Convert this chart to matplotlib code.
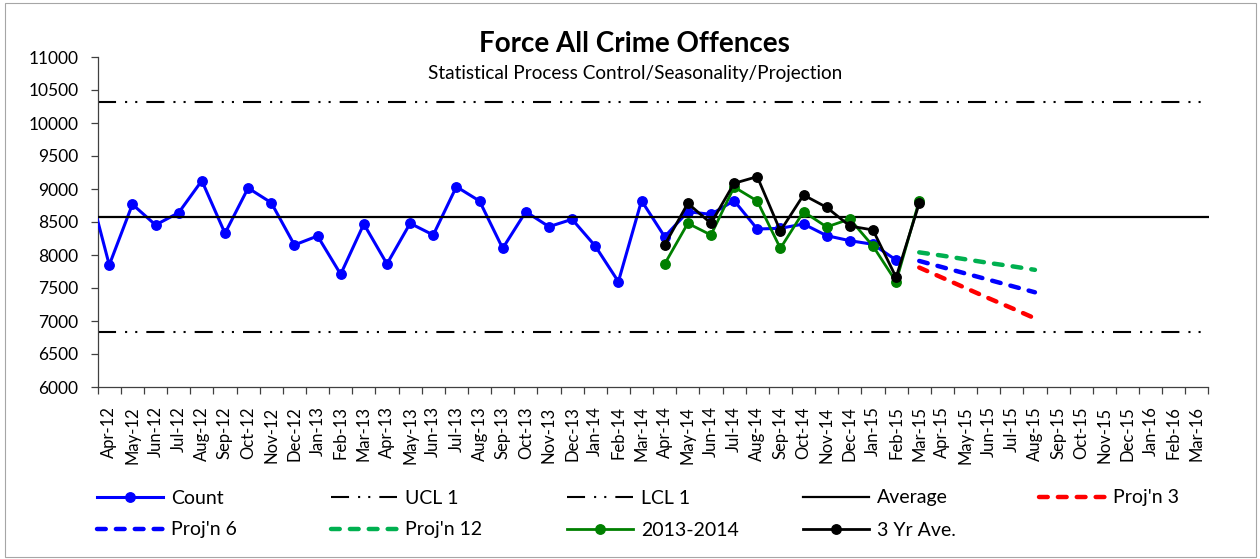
import matplotlib
matplotlib.use('Agg')
import matplotlib.pyplot as plt
from matplotlib.patches import Rectangle
import numpy as np

plt.rcParams['font.family'] = ['Lato', 'DejaVu Sans']
plt.rcParams['lines.scale_dashes'] = False

W, H = 1260, 559

months = ['Apr-12', 'May-12', 'Jun-12', 'Jul-12', 'Aug-12', 'Sep-12', 'Oct-12', 'Nov-12',
          'Dec-12', 'Jan-13', 'Feb-13', 'Mar-13', 'Apr-13', 'May-13', 'Jun-13', 'Jul-13',
          'Aug-13', 'Sep-13', 'Oct-13', 'Nov-13', 'Dec-13', 'Jan-14', 'Feb-14', 'Mar-14',
          'Apr-14', 'May-14', 'Jun-14', 'Jul-14', 'Aug-14', 'Sep-14', 'Oct-14', 'Nov-14',
          'Dec-14', 'Jan-15', 'Feb-15', 'Mar-15', 'Apr-15', 'May-15', 'Jun-15', 'Jul-15',
          'Aug-15', 'Sep-15', 'Oct-15', 'Nov-15', 'Dec-15', 'Jan-16', 'Feb-16', 'Mar-16']

# value for the month before the first category (Mar-12), only its segment is visible
count_before = 9190
# Count: Apr-12 .. Feb-15
count = [7848, 8768, 8455, 8641, 9126, 8329, 9015, 8792, 8152, 8288, 7708, 8470,
         7864, 8480, 8303, 9035, 8818, 8101, 8656, 8429, 8541, 8136, 7596, 8823,
         8277, 8656, 8616, 8823, 8394, 8404, 8470, 8293, 8217, 8162, 7924]
# 2013-2014 and 3 Yr Ave: Apr-14 .. Mar-15
yr_2013_2014 = [7864, 8480, 8303, 9030, 8818, 8101, 8656, 8425, 8545, 8136, 7596, 8823]
three_yr_ave = [8152, 8783, 8480, 9086, 9187, 8364, 8909, 8722, 8439, 8379, 7662, 8783]
# Projections: Mar-15 .. Aug-15
proj3 = [7810, 7655, 7500, 7345, 7195, 7040]
proj6 = [7910, 7815, 7720, 7625, 7530, 7435]
proj12 = [8040, 7990, 7935, 7880, 7830, 7775]

ucl = 10320
lcl = 6830
average = 8571

fig = plt.figure(figsize=(W / 100, H / 100), dpi=100)
ax = fig.add_axes([97.7 / W, 1 - 387 / H, (1208.5 - 97.7) / W, (387 - 57) / H])

x_all = np.arange(len(months))
i_count = months.index('Apr-12')
i_2013 = months.index('Apr-14')
i_proj = months.index('Mar-15')

blue = '#0000FF'
dgreen = '#008000'
lgreen = '#00B050'
red = '#FF0000'

h_count, = ax.plot(np.arange(i_count - 1, i_count + len(count)), [count_before] + count,
                   color=blue, lw=2.2, marker='o', ms=6.8, label='Count', zorder=3)
lddot = (13, 6.5, 1.5, 5.8, 1.5, 6.5)
h_ucl = ax.axhline(ucl, color='black', lw=1.5, dashes=lddot, label='UCL 1', zorder=2)
h_lcl = ax.axhline(lcl, color='black', lw=1.5, dashes=lddot, label='LCL 1', zorder=2)
h_avg = ax.axhline(average, color='black', lw=1.6, label='Average', zorder=4)

pdash = (6.3, 7.3)
h_p3, = ax.plot(np.arange(i_proj, i_proj + len(proj3)), proj3, color=red, lw=3.2,
                dashes=pdash, dash_capstyle='round', label="Proj'n 3", zorder=5)
h_p6, = ax.plot(np.arange(i_proj, i_proj + len(proj6)), proj6, color=blue, lw=3.2,
                dashes=pdash, dash_capstyle='round', label="Proj'n 6", zorder=5)
h_p12, = ax.plot(np.arange(i_proj, i_proj + len(proj12)), proj12, color=lgreen, lw=3.2,
                 dashes=pdash, dash_capstyle='round', label="Proj'n 12", zorder=5)
h_13, = ax.plot(np.arange(i_2013, i_2013 + len(yr_2013_2014)), yr_2013_2014, color=dgreen,
                lw=2.0, marker='o', ms=6.8, label='2013-2014', zorder=6)
h_3y, = ax.plot(np.arange(i_2013, i_2013 + len(three_yr_ave)), three_yr_ave, color='black',
                lw=2.0, marker='o', ms=6.8, label='3 Yr Ave.', zorder=7)

ax.set_xlim(-0.5, len(months) - 0.5)
ax.set_ylim(6000, 11000)
ax.set_yticks(np.arange(6000, 11001, 500))
ax.set_xticks(x_all)
ax.set_xticklabels(months, rotation=90, fontsize=12)
ax.set_xticks(np.arange(-0.5, len(months), 1), minor=True)
ax.tick_params(axis='x', which='major', length=0, pad=14)
ax.tick_params(axis='x', which='minor', length=5, width=0.9, color='#404040')
ax.tick_params(axis='y', length=5, width=0.9, color='#404040', labelsize=12.5, pad=9)
for s in ['top', 'right']:
    ax.spines[s].set_visible(False)
for s in ['left', 'bottom']:
    ax.spines[s].set_color('#404040')
    ax.spines[s].set_linewidth(0.9)

fig.text(634 / W, 1 - 44 / H, 'Force All Crime Offences', ha='center', va='center',
         fontsize=20, fontweight='bold')
fig.text(635 / W, 1 - 73 / H, 'Statistical Process Control/Seasonality/Projection',
         ha='center', va='center', fontsize=13.7)

legend_items = [(h_count, 97, 498), (h_ucl, 331, 498), (h_lcl, 567, 498), (h_avg, 803, 498),
                (h_p3, 1039, 498), (h_p6, 97, 530), (h_p12, 331, 530), (h_13, 567, 530),
                (h_3y, 803, 530)]
for h, lx, ly in legend_items:
    fig.legend(handles=[h], loc='center left', bbox_to_anchor=(lx / W, 1 - ly / H),
               frameon=False, borderpad=0, borderaxespad=0, handlelength=3.4,
               handletextpad=0.41, fontsize=14)

fig.patches.append(Rectangle((5 / W, 1 - 557 / H), 1251 / W, 554 / H, transform=fig.transFigure,
                             fill=False, edgecolor='#A6A6A6', lw=0.8))

fig.savefig('out.png', dpi=100)
